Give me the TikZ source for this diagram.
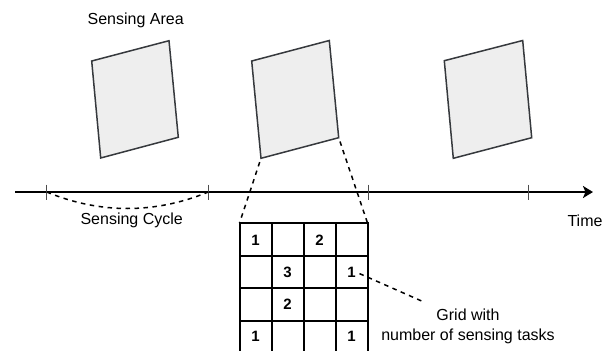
\documentclass[tikz,border=0pt]{standalone}
\usepackage{fontspec}
\setmainfont{Liberation Sans}
\usetikzlibrary{arrows.meta}
\definecolor{areafill}{HTML}{EEEEEE}
\definecolor{arealine}{HTML}{36393D}
\begin{document}
\begin{tikzpicture}[x=1pt,y=-1pt,
  area/.style={draw=arealine,fill=areafill,line width=1.5pt,line join=miter},
  axis/.style={line width=2.6pt,-{Stealth[length=10pt,width=12pt,inset=2.5pt]}},
  tickmark/.style={draw=black!70,line width=0.9pt},
  dashline/.style={line width=1.5pt,dash pattern=on 4.5pt off 4.5pt},
  gridline/.style={line width=2pt},
  lbl/.style={font=\fontsize{16}{20}\selectfont,inner sep=0pt,align=center},
  num/.style={font=\fontsize{15}{18}\selectfont\bfseries,inner sep=0pt}]
\useasboundingbox (0,0) rectangle (614,351);
% sensing areas
\coordinate (a1) at (91.7,61);  \coordinate (b1) at (169,40.7);
\coordinate (c1) at (178.3,137.3); \coordinate (d1) at (100.7,158);
\coordinate (a2) at (251.7,61);  \coordinate (b2) at (329.3,40.5);
\coordinate (c2) at (338.7,137.7); \coordinate (d2) at (261,158.3);
\coordinate (a3) at (444.3,60.7);  \coordinate (b3) at (522.7,40.5);
\coordinate (c3) at (531.7,137.7); \coordinate (d3) at (453.3,158.3);
\draw[area] (a1)--(b1)--(c1)--(d1)--cycle;
\draw[area] (a2)--(b2)--(c2)--(d2)--cycle;
\draw[area] (a3)--(b3)--(c3)--(d3)--cycle;
% time axis
\coordinate (t0) at (15,192);
\coordinate (t1) at (593,192);
\draw[axis] (t0) -- (t1);
\foreach \i/\x in {1/46.7,2/208.3,3/368.3,4/528.7}{
  \coordinate (k\i) at (\x,192);
  \draw[tickmark] ([yshift=7.5pt]k\i) -- ([yshift=-7.5pt]k\i);
}
\draw[dashline] (k1) .. controls (100,214) and (155,214) .. (k2);
% labels
\node[lbl] (sa) at (135.7,20.7) {Sensing Area};
\node[lbl] (sc) at (131.7,220) {Sensing Cycle};
\node[lbl] (tm) at (585,221) {Time};
% grid
\foreach \y in {223,255.5,288,320.5}{
  \draw[gridline] (239.5,\y) -- (367.5,\y);
}
\foreach \x in {239.5,271.5,303.5,335.5,367.5}{
  \draw[gridline] (\x,222) -- (\x,351);
}
\coordinate (gtl) at (239.5,223);
\coordinate (gtr) at (367.5,223);
\node[num] (n11) at (255.5,240) {1};
\node[num] (n13) at (319.5,240) {2};
\node[num] (n22) at (287.5,272) {3};
\node[num] (n24) at (351.5,272) {1};
\node[num] (n32) at (287.5,304.5) {2};
\node[num] (n41) at (255.5,336.5) {1};
\node[num] (n44) at (351.5,336.5) {1};
% zoom lines
\draw[dashline,shorten <=4pt] (d2) -- (gtl);
\draw[dashline,shorten <=4pt] (c2) -- (gtr);
% leader
\coordinate (lead) at (425,302.5);
\draw[dashline,shorten <=4pt] (n24.east) -- (lead);
\node[lbl] (gw) at (468,326) {Grid with\\number of sensing tasks};
\end{tikzpicture}
\end{document}
